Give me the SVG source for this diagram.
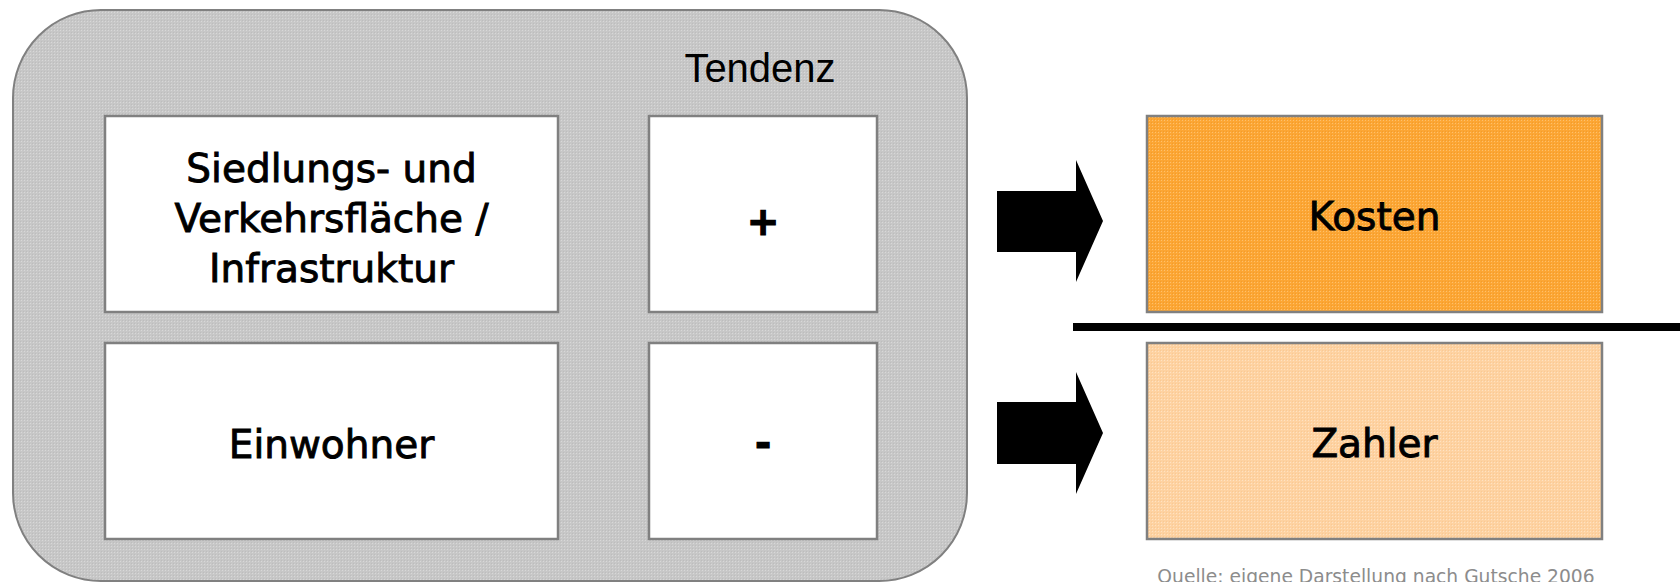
<svg xmlns="http://www.w3.org/2000/svg" width="1680" height="582" viewBox="0 0 1680 582">
  <defs>
    <pattern id="texGray" width="3" height="3" patternUnits="userSpaceOnUse">
      <rect width="3" height="3" fill="#c7c7c7"/>
      <rect x="0" y="0" width="1" height="1" fill="#d8d8d8"/>
      <rect x="2" y="2" width="1" height="1" fill="#bdbdbd"/>
    </pattern>
    <pattern id="texOrange" width="3" height="3" patternUnits="userSpaceOnUse">
      <rect width="3" height="3" fill="#fca634"/>
      <rect x="0" y="0" width="1" height="1" fill="#fdc06c"/>
      <rect x="2" y="2" width="1" height="1" fill="#f39c2a"/>
    </pattern>
    <pattern id="texPeach" width="3" height="3" patternUnits="userSpaceOnUse">
      <rect width="3" height="3" fill="#fed2a1"/>
      <rect x="0" y="0" width="1" height="1" fill="#fee2c2"/>
      <rect x="2" y="2" width="1" height="1" fill="#f9c994"/>
    </pattern>
  </defs>
  <style>
    .frame { fill: url(#texGray); stroke: #808080; stroke-width: 2; }
    .box { fill: #ffffff; stroke: #808080; stroke-width: 2.5; }
    .cost { fill: url(#texOrange); stroke: #808080; stroke-width: 2.5; }
    .payer { fill: url(#texPeach); stroke: #808080; stroke-width: 2.5; }
    .lbl { font-family: "DejaVu Sans", "Noto Sans", sans-serif; font-size: 39px; fill: #000000; stroke: #000000; stroke-width: 0.9; text-anchor: middle; }
    .sign { font-family: "DejaVu Sans", "Noto Sans", sans-serif; font-size: 39px; font-weight: bold; fill: #000000; stroke: #000000; stroke-width: 1.2; text-anchor: middle; }
    .head { font-family: "Liberation Sans", Arial, sans-serif; font-size: 40px; fill: #000000; text-anchor: middle; }
    .src { font-family: "DejaVu Sans", "Noto Sans", sans-serif; font-size: 18.7px; fill: #8c8c8c; text-anchor: middle; }
    .arrow { fill: #000000; }
  </style>

  <g id="frame">
    <rect class="frame" x="13" y="10" width="954" height="571" rx="88" ry="88"/>
    <text class="head" x="760" y="82">Tendenz</text>
  </g>

  <g id="node-siedlung">
    <rect class="box" x="105" y="116" width="453" height="196"/>
    <text class="lbl" x="331.5" y="182">Siedlungs- und</text>
    <text class="lbl" x="331.5" y="232">Verkehrsfläche /</text>
    <text class="lbl" x="331.5" y="282">Infrastruktur</text>
  </g>

  <g id="node-plus">
    <rect class="box" x="649" y="116" width="228" height="196"/>
    <text class="sign" x="763" y="235">+</text>
  </g>

  <g id="node-einwohner">
    <rect class="box" x="105" y="343" width="453" height="196"/>
    <text class="lbl" x="331.5" y="458">Einwohner</text>
  </g>

  <g id="node-minus">
    <rect class="box" x="649" y="343" width="228" height="196"/>
    <text class="sign" x="763" y="457">-</text>
  </g>

  <g id="node-kosten">
    <rect class="cost" x="1147" y="116" width="455" height="196"/>
    <text class="lbl" x="1374.5" y="230">Kosten</text>
  </g>

  <g id="node-zahler">
    <rect class="payer" x="1147" y="343" width="455" height="196"/>
    <text class="lbl" x="1374.5" y="457">Zahler</text>
  </g>

  <g id="connectors">
    <polygon class="arrow" points="997,191 1076,191 1076,160 1103,221 1076,282 1076,252 997,252"/>
    <polygon class="arrow" points="997,402 1076,402 1076,372 1103,433 1076,494 1076,464 997,464"/>
    <rect x="1073" y="323" width="607" height="8" fill="#000000"/>
  </g>

  <g id="source">
    <text class="src" x="1376" y="583">Quelle: eigene Darstellung nach Gutsche 2006</text>
  </g>
</svg>
